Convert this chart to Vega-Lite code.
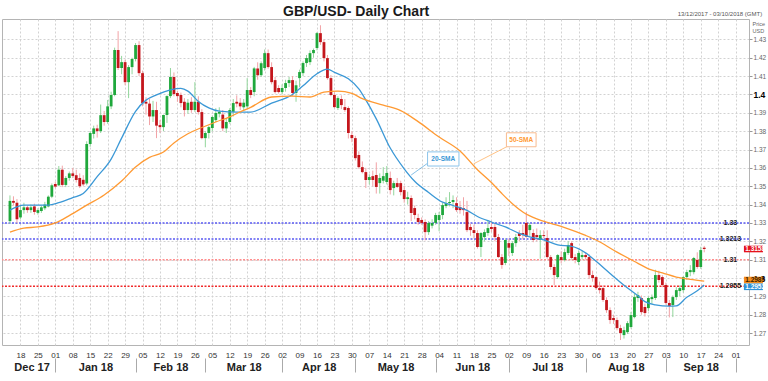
{
"$schema": "https://vega.github.io/schema/vega-lite/v6.json",
"width": 747,
"height": 326,
"autosize": {"type": "none"},
"padding": {"left": 2, "top": 19, "right": 19, "bottom": 36},
"background": "white",
"config": {
  "font": "Liberation Sans",
  "view": {"stroke": "#b4b4b4"},
  "axis": {"labelFont": "Liberation Sans", "titleFont": "Liberation Sans", "labelOverlap": false},
  "text": {"font": "Liberation Sans"}
},
"title": {"text": "GBP/USD- Daily Chart", "anchor": "start", "frame": "group", "dx": 281, "dy": 12, "offset": 4, "fontSize": 14, "fontWeight": "bold", "color": "#1a1a1a", "font": "Liberation Sans"},
"datasets": {
"candles": [
{"i":0,"o":1.3310,"h":1.3450,"l":1.3295,"c":1.3420},
{"i":1,"o":1.3420,"h":1.3445,"l":1.3395,"c":1.3410},
{"i":2,"o":1.3410,"h":1.3430,"l":1.3300,"c":1.3320},
{"i":3,"o":1.3330,"h":1.3395,"l":1.3320,"c":1.3370},
{"i":4,"o":1.3370,"h":1.3410,"l":1.3350,"c":1.3385},
{"i":5,"o":1.3385,"h":1.3395,"l":1.3355,"c":1.3370},
{"i":6,"o":1.3370,"h":1.3400,"l":1.3355,"c":1.3385},
{"i":7,"o":1.3390,"h":1.3405,"l":1.3345,"c":1.3360},
{"i":8,"o":1.3355,"h":1.3380,"l":1.3345,"c":1.3370},
{"i":9,"o":1.3365,"h":1.3395,"l":1.3355,"c":1.3385},
{"i":10,"o":1.3380,"h":1.3415,"l":1.3370,"c":1.3400},
{"i":11,"o":1.3390,"h":1.3450,"l":1.3385,"c":1.3443},
{"i":12,"o":1.3443,"h":1.3515,"l":1.3435,"c":1.3505},
{"i":13,"o":1.3512,"h":1.3525,"l":1.3490,"c":1.3498},
{"i":14,"o":1.3505,"h":1.3610,"l":1.3500,"c":1.3590},
{"i":15,"o":1.3590,"h":1.3612,"l":1.3495,"c":1.3507},
{"i":16,"o":1.3507,"h":1.3555,"l":1.3495,"c":1.3545},
{"i":17,"o":1.3545,"h":1.3580,"l":1.3530,"c":1.3570},
{"i":18,"o":1.3570,"h":1.3600,"l":1.3545,"c":1.3556},
{"i":19,"o":1.3560,"h":1.3590,"l":1.3520,"c":1.3534},
{"i":20,"o":1.3545,"h":1.3570,"l":1.3490,"c":1.3500},
{"i":21,"o":1.3535,"h":1.3560,"l":1.3500,"c":1.3510},
{"i":22,"o":1.3515,"h":1.3745,"l":1.3505,"c":1.3730},
{"i":23,"o":1.3730,"h":1.3800,"l":1.3715,"c":1.3790},
{"i":24,"o":1.3785,"h":1.3830,"l":1.3760,"c":1.3815},
{"i":25,"o":1.3815,"h":1.3835,"l":1.3765,"c":1.3800},
{"i":26,"o":1.3800,"h":1.3945,"l":1.3790,"c":1.3887},
{"i":27,"o":1.3887,"h":1.3910,"l":1.3830,"c":1.3850},
{"i":28,"o":1.3850,"h":1.3970,"l":1.3840,"c":1.3935},
{"i":29,"o":1.3935,"h":1.4015,"l":1.3920,"c":1.3997},
{"i":30,"o":1.3997,"h":1.4255,"l":1.3990,"c":1.4242},
{"i":31,"o":1.4242,"h":1.4345,"l":1.4133,"c":1.4144},
{"i":32,"o":1.4144,"h":1.4210,"l":1.4110,"c":1.4176},
{"i":33,"o":1.4176,"h":1.4190,"l":1.4050,"c":1.4067},
{"i":34,"o":1.4067,"h":1.4160,"l":1.3980,"c":1.4149},
{"i":35,"o":1.4149,"h":1.4200,"l":1.4110,"c":1.4193},
{"i":36,"o":1.4193,"h":1.4280,"l":1.4180,"c":1.4269},
{"i":37,"o":1.4269,"h":1.4290,"l":1.4100,"c":1.4116},
{"i":38,"o":1.4116,"h":1.4130,"l":1.3935,"c":1.3953},
{"i":39,"o":1.3960,"h":1.3985,"l":1.3890,"c":1.3950},
{"i":40,"o":1.3950,"h":1.3975,"l":1.3833,"c":1.3880},
{"i":41,"o":1.3880,"h":1.3965,"l":1.3850,"c":1.3915},
{"i":42,"o":1.3915,"h":1.3960,"l":1.3762,"c":1.3830},
{"i":43,"o":1.3833,"h":1.3860,"l":1.3790,"c":1.3822},
{"i":44,"o":1.3822,"h":1.3890,"l":1.3800,"c":1.3888},
{"i":45,"o":1.3888,"h":1.3995,"l":1.3845,"c":1.3991},
{"i":46,"o":1.3991,"h":1.4144,"l":1.3980,"c":1.4095},
{"i":47,"o":1.4095,"h":1.4120,"l":1.3990,"c":1.4002},
{"i":48,"o":1.4008,"h":1.4020,"l":1.3960,"c":1.3991},
{"i":49,"o":1.3997,"h":1.4010,"l":1.3930,"c":1.3953},
{"i":50,"o":1.3960,"h":1.3980,"l":1.3880,"c":1.3915},
{"i":51,"o":1.3915,"h":1.3975,"l":1.3895,"c":1.3955},
{"i":52,"o":1.3960,"h":1.3985,"l":1.3900,"c":1.3915},
{"i":53,"o":1.3915,"h":1.4067,"l":1.3905,"c":1.3960},
{"i":54,"o":1.3960,"h":1.3990,"l":1.3890,"c":1.3904},
{"i":55,"o":1.3904,"h":1.3920,"l":1.3755,"c":1.3762},
{"i":56,"o":1.3762,"h":1.3800,"l":1.3712,"c":1.3790},
{"i":57,"o":1.3790,"h":1.3830,"l":1.3760,"c":1.3822},
{"i":58,"o":1.3817,"h":1.3885,"l":1.3800,"c":1.3877},
{"i":59,"o":1.3860,"h":1.3925,"l":1.3850,"c":1.3899},
{"i":60,"o":1.3895,"h":1.3930,"l":1.3875,"c":1.3905},
{"i":61,"o":1.3890,"h":1.3915,"l":1.3800,"c":1.3815},
{"i":62,"o":1.3815,"h":1.3870,"l":1.3790,"c":1.3850},
{"i":63,"o":1.3850,"h":1.3925,"l":1.3840,"c":1.3915},
{"i":64,"o":1.3905,"h":1.3975,"l":1.3880,"c":1.3953},
{"i":65,"o":1.3960,"h":1.3995,"l":1.3930,"c":1.3950},
{"i":66,"o":1.3955,"h":1.3980,"l":1.3915,"c":1.3935},
{"i":67,"o":1.3930,"h":1.3975,"l":1.3910,"c":1.3955},
{"i":68,"o":1.3935,"h":1.4089,"l":1.3925,"c":1.4024},
{"i":69,"o":1.4024,"h":1.4040,"l":1.3980,"c":1.3997},
{"i":70,"o":1.4013,"h":1.4150,"l":1.3990,"c":1.4142},
{"i":71,"o":1.4142,"h":1.4175,"l":1.4080,"c":1.4105},
{"i":72,"o":1.4105,"h":1.4180,"l":1.4095,"c":1.4170},
{"i":73,"o":1.4144,"h":1.4245,"l":1.4130,"c":1.4225},
{"i":74,"o":1.4225,"h":1.4245,"l":1.4140,"c":1.4149},
{"i":75,"o":1.4149,"h":1.4175,"l":1.4055,"c":1.4067},
{"i":76,"o":1.4078,"h":1.4095,"l":1.4005,"c":1.4013},
{"i":77,"o":1.4035,"h":1.4050,"l":1.4005,"c":1.4013},
{"i":78,"o":1.4013,"h":1.4055,"l":1.4000,"c":1.4035},
{"i":79,"o":1.4035,"h":1.4080,"l":1.4015,"c":1.4062},
{"i":80,"o":1.4062,"h":1.4095,"l":1.4040,"c":1.4078},
{"i":81,"o":1.4078,"h":1.4100,"l":1.3990,"c":1.4008},
{"i":82,"o":1.4008,"h":1.4075,"l":1.3960,"c":1.4050},
{"i":83,"o":1.4089,"h":1.4135,"l":1.4040,"c":1.4122},
{"i":84,"o":1.4116,"h":1.4180,"l":1.4100,"c":1.4171},
{"i":85,"o":1.4171,"h":1.4215,"l":1.4150,"c":1.4198},
{"i":86,"o":1.4176,"h":1.4240,"l":1.4160,"c":1.4225},
{"i":87,"o":1.4225,"h":1.4250,"l":1.4200,"c":1.4242},
{"i":88,"o":1.4253,"h":1.4340,"l":1.4240,"c":1.4334},
{"i":89,"o":1.4334,"h":1.4377,"l":1.4270,"c":1.4285},
{"i":90,"o":1.4285,"h":1.4300,"l":1.4180,"c":1.4198},
{"i":91,"o":1.4198,"h":1.4215,"l":1.4080,"c":1.4089},
{"i":92,"o":1.4089,"h":1.4105,"l":1.3990,"c":1.3997},
{"i":93,"o":1.3997,"h":1.4010,"l":1.3925,"c":1.3931},
{"i":94,"o":1.3926,"h":1.3990,"l":1.3915,"c":1.3980},
{"i":95,"o":1.3975,"h":1.3995,"l":1.3920,"c":1.3942},
{"i":96,"o":1.3931,"h":1.3975,"l":1.3905,"c":1.3915},
{"i":97,"o":1.3926,"h":1.3935,"l":1.3760,"c":1.3790},
{"i":98,"o":1.3779,"h":1.3800,"l":1.3740,"c":1.3762},
{"i":99,"o":1.3762,"h":1.3775,"l":1.3640,"c":1.3653},
{"i":100,"o":1.3670,"h":1.3690,"l":1.3595,"c":1.3604},
{"i":101,"o":1.3604,"h":1.3635,"l":1.3570,"c":1.3577},
{"i":102,"o":1.3577,"h":1.3600,"l":1.3490,"c":1.3534},
{"i":103,"o":1.3534,"h":1.3565,"l":1.3510,"c":1.3550},
{"i":104,"o":1.3555,"h":1.3585,"l":1.3500,"c":1.3534},
{"i":105,"o":1.3561,"h":1.3630,"l":1.3460,"c":1.3496},
{"i":106,"o":1.3517,"h":1.3570,"l":1.3460,"c":1.3545},
{"i":107,"o":1.3530,"h":1.3604,"l":1.3515,"c":1.3555},
{"i":108,"o":1.3523,"h":1.3610,"l":1.3510,"c":1.3572},
{"i":109,"o":1.3545,"h":1.3580,"l":1.3455,"c":1.3479},
{"i":110,"o":1.3490,"h":1.3530,"l":1.3450,"c":1.3517},
{"i":111,"o":1.3517,"h":1.3545,"l":1.3490,"c":1.3496},
{"i":112,"o":1.3517,"h":1.3530,"l":1.3450,"c":1.3468},
{"i":113,"o":1.3479,"h":1.3500,"l":1.3410,"c":1.3430},
{"i":114,"o":1.3430,"h":1.3470,"l":1.3400,"c":1.3440},
{"i":115,"o":1.3436,"h":1.3450,"l":1.3310,"c":1.3354},
{"i":116,"o":1.3381,"h":1.3395,"l":1.3320,"c":1.3343},
{"i":117,"o":1.3327,"h":1.3350,"l":1.3290,"c":1.3305},
{"i":118,"o":1.3316,"h":1.3330,"l":1.3290,"c":1.3300},
{"i":119,"o":1.3305,"h":1.3320,"l":1.3205,"c":1.3250},
{"i":120,"o":1.3250,"h":1.3310,"l":1.3235,"c":1.3300},
{"i":121,"o":1.3285,"h":1.3320,"l":1.3270,"c":1.3300},
{"i":122,"o":1.3300,"h":1.3355,"l":1.3290,"c":1.3343},
{"i":123,"o":1.3316,"h":1.3360,"l":1.3255,"c":1.3343},
{"i":124,"o":1.3343,"h":1.3410,"l":1.3320,"c":1.3397},
{"i":125,"o":1.3392,"h":1.3440,"l":1.3380,"c":1.3408},
{"i":126,"o":1.3408,"h":1.3468,"l":1.3390,"c":1.3414},
{"i":127,"o":1.3414,"h":1.3450,"l":1.3380,"c":1.3425},
{"i":128,"o":1.3408,"h":1.3440,"l":1.3360,"c":1.3370},
{"i":129,"o":1.3387,"h":1.3420,"l":1.3350,"c":1.3370},
{"i":130,"o":1.3381,"h":1.3440,"l":1.3340,"c":1.3370},
{"i":131,"o":1.3359,"h":1.3420,"l":1.3250,"c":1.3261},
{"i":132,"o":1.3278,"h":1.3295,"l":1.3230,"c":1.3261},
{"i":133,"o":1.3261,"h":1.3290,"l":1.3215,"c":1.3245},
{"i":134,"o":1.3245,"h":1.3260,"l":1.3160,"c":1.3169},
{"i":135,"o":1.3169,"h":1.3250,"l":1.3114,"c":1.3245},
{"i":136,"o":1.3223,"h":1.3265,"l":1.3200,"c":1.3250},
{"i":137,"o":1.3245,"h":1.3316,"l":1.3230,"c":1.3272},
{"i":138,"o":1.3278,"h":1.3310,"l":1.3250,"c":1.3267},
{"i":139,"o":1.3278,"h":1.3300,"l":1.3200,"c":1.3223},
{"i":140,"o":1.3223,"h":1.3240,"l":1.3110,"c":1.3114},
{"i":141,"o":1.3114,"h":1.3130,"l":1.3050,"c":1.3071},
{"i":142,"o":1.3082,"h":1.3215,"l":1.3070,"c":1.3207},
{"i":143,"o":1.3190,"h":1.3215,"l":1.3120,"c":1.3165},
{"i":144,"o":1.3136,"h":1.3200,"l":1.3120,"c":1.3190},
{"i":145,"o":1.3190,"h":1.3240,"l":1.3170,"c":1.3223},
{"i":146,"o":1.3245,"h":1.3260,"l":1.3200,"c":1.3229},
{"i":147,"o":1.3245,"h":1.3290,"l":1.3210,"c":1.3234},
{"i":148,"o":1.3300,"h":1.3360,"l":1.3220,"c":1.3225},
{"i":149,"o":1.3261,"h":1.3300,"l":1.3230,"c":1.3289},
{"i":150,"o":1.3245,"h":1.3265,"l":1.3195,"c":1.3207},
{"i":151,"o":1.3234,"h":1.3270,"l":1.3200,"c":1.3223},
{"i":152,"o":1.3207,"h":1.3260,"l":1.3105,"c":1.3234},
{"i":153,"o":1.3234,"h":1.3260,"l":1.3215,"c":1.3229},
{"i":154,"o":1.3218,"h":1.3260,"l":1.3105,"c":1.3114},
{"i":155,"o":1.3114,"h":1.3125,"l":1.3045,"c":1.3060},
{"i":156,"o":1.3060,"h":1.3075,"l":1.2962,"c":1.3016},
{"i":157,"o":1.3005,"h":1.3130,"l":1.2995,"c":1.3125},
{"i":158,"o":1.3114,"h":1.3145,"l":1.3080,"c":1.3098},
{"i":159,"o":1.3098,"h":1.3160,"l":1.3090,"c":1.3141},
{"i":160,"o":1.3136,"h":1.3200,"l":1.3125,"c":1.3180},
{"i":161,"o":1.3190,"h":1.3200,"l":1.3100,"c":1.3109},
{"i":162,"o":1.3114,"h":1.3130,"l":1.3080,"c":1.3098},
{"i":163,"o":1.3087,"h":1.3150,"l":1.3070,"c":1.3136},
{"i":164,"o":1.3114,"h":1.3150,"l":1.3100,"c":1.3125},
{"i":165,"o":1.3125,"h":1.3140,"l":1.3100,"c":1.3114},
{"i":166,"o":1.3114,"h":1.3130,"l":1.2995,"c":1.3016},
{"i":167,"o":1.3016,"h":1.3040,"l":1.2980,"c":1.3000},
{"i":168,"o":1.3005,"h":1.3010,"l":1.2935,"c":1.2945},
{"i":169,"o":1.2945,"h":1.2980,"l":1.2915,"c":1.2934},
{"i":170,"o":1.2945,"h":1.2960,"l":1.2870,"c":1.2880},
{"i":171,"o":1.2880,"h":1.2895,"l":1.2810,"c":1.2825},
{"i":172,"o":1.2825,"h":1.2840,"l":1.2750,"c":1.2771},
{"i":173,"o":1.2782,"h":1.2800,"l":1.2750,"c":1.2771},
{"i":174,"o":1.2771,"h":1.2785,"l":1.2715,"c":1.2727},
{"i":175,"o":1.2727,"h":1.2745,"l":1.2662,"c":1.2700},
{"i":176,"o":1.2689,"h":1.2735,"l":1.2670,"c":1.2716},
{"i":177,"o":1.2705,"h":1.2765,"l":1.2695,"c":1.2754},
{"i":178,"o":1.2733,"h":1.2815,"l":1.2725,"c":1.2798},
{"i":179,"o":1.2787,"h":1.2915,"l":1.2780,"c":1.2896},
{"i":180,"o":1.2891,"h":1.2925,"l":1.2870,"c":1.2907},
{"i":181,"o":1.2891,"h":1.2905,"l":1.2800,"c":1.2814},
{"i":182,"o":1.2842,"h":1.2860,"l":1.2790,"c":1.2809},
{"i":183,"o":1.2836,"h":1.2900,"l":1.2820,"c":1.2891},
{"i":184,"o":1.2885,"h":1.2910,"l":1.2860,"c":1.2896},
{"i":185,"o":1.2891,"h":1.3045,"l":1.2880,"c":1.3016},
{"i":186,"o":1.3016,"h":1.3040,"l":1.2975,"c":1.2989},
{"i":187,"o":1.3005,"h":1.3015,"l":1.2950,"c":1.2962},
{"i":188,"o":1.2962,"h":1.2975,"l":1.2855,"c":1.2864},
{"i":189,"o":1.2864,"h":1.2880,"l":1.2785,"c":1.2847},
{"i":190,"o":1.2853,"h":1.2905,"l":1.2787,"c":1.2896},
{"i":191,"o":1.2896,"h":1.2950,"l":1.2880,"c":1.2934},
{"i":192,"o":1.2929,"h":1.2960,"l":1.2900,"c":1.2945},
{"i":193,"o":1.2934,"h":1.3010,"l":1.2920,"c":1.3005},
{"i":194,"o":1.3005,"h":1.3045,"l":1.2990,"c":1.3032},
{"i":195,"o":1.3032,"h":1.3070,"l":1.3010,"c":1.3043},
{"i":196,"o":1.3032,"h":1.3115,"l":1.3020,"c":1.3109},
{"i":197,"o":1.3098,"h":1.3140,"l":1.3050,"c":1.3060},
{"i":198,"o":1.3060,"h":1.3170,"l":1.3050,"c":1.3152},
{"i":199,"o":1.3165,"h":1.3175,"l":1.3140,"c":1.3158}
],
"sma": [
{"s":"20","i":0,"v":1.3370},{"s":"20","i":4,"v":1.3397},{"s":"20","i":11,"v":1.3397},{"s":"20","i":14,"v":1.3410},{"s":"20","i":18,"v":1.3438},{"s":"20","i":21,"v":1.3460},{"s":"20","i":25,"v":1.3552},{"s":"20","i":29,"v":1.3648},{"s":"20","i":32,"v":1.3762},{"s":"20","i":36,"v":1.3908},{"s":"20","i":39,"v":1.3969},{"s":"20","i":42,"v":1.3998},{"s":"20","i":46,"v":1.4025},{"s":"20","i":49,"v":1.4033},{"s":"20","i":51,"v":1.4018},{"s":"20","i":54,"v":1.3962},{"s":"20","i":57,"v":1.3927},{"s":"20","i":60,"v":1.3909},{"s":"20","i":65,"v":1.3904},{"s":"20","i":69,"v":1.3904},{"s":"20","i":75,"v":1.3953},{"s":"20","i":81,"v":1.4000},{"s":"20","i":84,"v":1.4047},{"s":"20","i":88,"v":1.4113},{"s":"20","i":91,"v":1.4138},{"s":"20","i":93,"v":1.4120},{"s":"20","i":97,"v":1.4085},{"s":"20","i":100,"v":1.4030},{"s":"20","i":102,"v":1.3970},{"s":"20","i":105,"v":1.3867},{"s":"20","i":109,"v":1.3708},{"s":"20","i":113,"v":1.3595},{"s":"20","i":116,"v":1.3527},{"s":"20","i":120,"v":1.3466},{"s":"20","i":124,"v":1.3413},{"s":"20","i":127,"v":1.3395},{"s":"20","i":131,"v":1.3368},{"s":"20","i":134,"v":1.3335},{"s":"20","i":138,"v":1.3305},{"s":"20","i":142,"v":1.3278},{"s":"20","i":146,"v":1.3243},{"s":"20","i":149,"v":1.3224},{"s":"20","i":153,"v":1.3208},{"s":"20","i":157,"v":1.3180},{"s":"20","i":161,"v":1.3172},{"s":"20","i":165,"v":1.3137},{"s":"20","i":168,"v":1.3091},{"s":"20","i":172,"v":1.3025},{"s":"20","i":176,"v":1.2961},{"s":"20","i":180,"v":1.2903},{"s":"20","i":182,"v":1.2871},{"s":"20","i":185,"v":1.2854},{"s":"20","i":189,"v":1.2847},{"s":"20","i":191,"v":1.2848},{"s":"20","i":194,"v":1.2895},{"s":"20","i":197,"v":1.2930},{"s":"20","i":199,"v":1.2962},
{"s":"50","i":0,"v":1.3250},{"s":"50","i":4,"v":1.3272},{"s":"50","i":8,"v":1.3278},{"s":"50","i":13,"v":1.3300},{"s":"50","i":17,"v":1.3340},{"s":"50","i":22,"v":1.3397},{"s":"50","i":27,"v":1.3452},{"s":"50","i":32,"v":1.3528},{"s":"50","i":36,"v":1.3605},{"s":"50","i":40,"v":1.3657},{"s":"50","i":44,"v":1.3686},{"s":"50","i":47,"v":1.3736},{"s":"50","i":51,"v":1.3786},{"s":"50","i":55,"v":1.3820},{"s":"50","i":59,"v":1.3850},{"s":"50","i":63,"v":1.3878},{"s":"50","i":66,"v":1.3905},{"s":"50","i":69,"v":1.3930},{"s":"50","i":75,"v":1.3986},{"s":"50","i":81,"v":1.3991},{"s":"50","i":86,"v":1.3986},{"s":"50","i":90,"v":1.4013},{"s":"50","i":94,"v":1.4018},{"s":"50","i":98,"v":1.4006},{"s":"50","i":101,"v":1.3977},{"s":"50","i":107,"v":1.3942},{"s":"50","i":112,"v":1.3912},{"s":"50","i":117,"v":1.3852},{"s":"50","i":123,"v":1.3768},{"s":"50","i":129,"v":1.3692},{"s":"50","i":134,"v":1.3590},{"s":"50","i":138,"v":1.3520},{"s":"50","i":141,"v":1.3460},{"s":"50","i":144,"v":1.3405},{"s":"50","i":147,"v":1.3360},{"s":"50","i":151,"v":1.3322},{"s":"50","i":155,"v":1.3298},{"s":"50","i":159,"v":1.3275},{"s":"50","i":165,"v":1.3232},{"s":"50","i":168,"v":1.3207},{"s":"50","i":174,"v":1.3141},{"s":"50","i":180,"v":1.3080},{"s":"50","i":183,"v":1.3050},{"s":"50","i":187,"v":1.3028},{"s":"50","i":191,"v":1.3005},{"s":"50","i":195,"v":1.2993},{"s":"50","i":199,"v":1.2983}
],
"levels": [{"lv":"1.33","v":1.33},{"lv":"1.3213","v":1.3213},{"lv":"1.31","v":1.31},{"lv":"1.2955","v":1.2955}],
"notes": [
{"s":"20","t":"20-SMA","x1":119.7,"x2":128.7,"y1":1.3687,"y2":1.3610,"xm":124.2,"ym":1.3648,"lx1":115.0,"ly1":1.3561,"lx2":119.7,"ly2":1.3625},
{"s":"50","t":"50-SMA","x1":142.3,"x2":150.8,"y1":1.3791,"y2":1.3715,"xm":146.55,"ym":1.3753,"lx1":132.9,"ly1":1.3622,"lx2":142.9,"ly2":1.3720}
],
"tags": [{"k":"close","v":1.3158},{"k":"sma50","v":1.2989},{"k":"sma20","v":1.2952}],
"meta": [{"range":"13/12/2017 - 03/10/2018 (GMT)"}]
},
"resolve": {"axis": {"x": "independent", "y": "independent"}},
"layer": [
{
 "data": {"name": "levels"},
 "mark": {"type": "rule", "strokeWidth": 1.5, "strokeDash": [2, 1.5]},
 "encoding": {
  "y": {"field": "v", "type": "quantitative",
   "scale": {"domain": [1.2635, 1.4411], "nice": false, "zero": false},
   "axis": {"orient": "right", "values": [1.27,1.28,1.29,1.31,1.32,1.33,1.34,1.35,1.36,1.37,1.38,1.39,1.41,1.42,1.43],
    "grid": true, "gridDash": [2,2], "gridColor": "#d2d2d2", "domain": false,
    "tickSize": 3, "tickColor": "#999", "labelPadding": 1, "labelOverlap": false, "labelFlush": false, "labelBound": false,
    "format": ".2f", "labelFontSize": 6.5, "labelColor": "#666",
    "title": ["Price", "USD"], "titleAngle": 0, "titleX": 3, "titleY": 2, "titleAlign": "left", "titleBaseline": "top",
    "titleFontSize": 5.5, "titleFontWeight": "normal", "titleColor": "#666", "titleLineHeight": 7}},
  "color": {"field": "lv", "type": "nominal", "legend": null,
   "scale": {"domain": ["20","50","close","sma50","sma20","1.33","1.3213","1.31","1.2955"], "range": ["#3b98d6","#ff9a33","#e5121b","#f58d1e","#2e92d8","#5a5af2","#5a5af2","#ff8f8f","#f02a2a"]}}
 }
},
{
 "data": {"name": "candles"},
 "mark": {"type": "rule", "strokeWidth": 1},
 "encoding": {
  "x": {"field": "i", "type": "quantitative",
   "scale": {"domain": [-0.85, 210.4], "nice": false, "zero": false},
   "axis": {"orient": "bottom", "values": [3,8,13,18,23,28,33,38,43,48,53,58,63,68,73,78,83,88,93,98,103,108,113,118,123,128,133,138,143,148,153,158,163,168,173,178,183,188,193,198,203,208],
    "labelExpr": "['18','25','01','08','15','22','29','05','12','19','26','05','12','19','26','02','09','16','23','30','07','14','21','28','04','11','18','25','02','09','16','23','30','06','13','20','27','03','10','17','24','01'][round((datum.value-3)/5)]",
    "grid": true, "gridDash": [2,2], "gridColor": "#d2d2d2", "domain": false, "ticks": false,
    "labelPadding": 6, "labelFontSize": 8, "labelColor": "#333", "labelOverlap": false, "labelFlush": false, "title": null}},
  "y": {"field": "l", "type": "quantitative", "scale": {"domain": [1.2635, 1.4411], "nice": false, "zero": false},
   "axis": {"orient": "right", "values": [1.3, 1.4], "grid": true, "gridDash": [2,2], "gridColor": "#d2d2d2", "domain": false,
    "tickSize": 3, "tickColor": "#999", "labelPadding": 1, "labelOverlap": false, "labelFlush": false, "labelBound": false,
    "format": ".1f", "labelFontSize": 8.5, "labelFontWeight": "bold", "labelColor": "#000", "title": null}},
  "y2": {"field": "h"},
  "color": {"condition": {"test": "datum.c >= datum.o", "value": "#92d69c"}, "value": "#f2a2a6"}
 }
},
{
 "data": {"name": "candles"},
 "mark": {"type": "bar", "size": 2.8, "orient": "vertical"},
 "encoding": {
  "x": {"field": "i", "type": "quantitative",
   "axis": {"orient": "bottom", "values": [6.2,24.5,46,67,88.5,110.5,132.5,154,176.5,198],
    "labelExpr": "datum.value < 10 ? 'Dec 17' : datum.value < 30 ? 'Jan 18' : datum.value < 50 ? 'Feb 18' : datum.value < 70 ? 'Mar 18' : datum.value < 100 ? 'Apr 18' : datum.value < 120 ? 'May 18' : datum.value < 140 ? 'Jun 18' : datum.value < 160 ? 'Jul 18' : datum.value < 180 ? 'Aug 18' : 'Sep 18'",
    "grid": false, "domain": false, "ticks": false, "labelPadding": 16, "labelFontSize": 11, "labelFontWeight": "bold", "labelColor": "#222", "labelOverlap": false, "labelFlush": false, "title": null}},
  "y": {"field": "o", "type": "quantitative", "axis": null},
  "y2": {"field": "c"},
  "color": {"condition": {"test": "datum.c >= datum.o", "value": "#1fa83c"}, "value": "#c4161c"}
 }
},
{
 "data": {"name": "sma"},
 "mark": {"type": "line", "strokeWidth": 1.3, "interpolate": "monotone"},
 "encoding": {
  "x": {"field": "i", "type": "quantitative",
   "axis": {"orient": "bottom", "values": [13,36,56,78,99,122,143,165,188,208], "labels": false, "ticks": true, "tickSize": 14, "tickColor": "#aaa", "offset": 13, "domain": false, "grid": false, "title": null}},
  "y": {"field": "v", "type": "quantitative", "axis": null},
  "color": {"field": "s", "type": "nominal", "legend": null,
   "scale": {"domain": ["20","50","close","sma50","sma20","1.33","1.3213","1.31","1.2955"], "range": ["#3b98d6","#ff9a33","#e5121b","#f58d1e","#2e92d8","#5a5af2","#5a5af2","#ff8f8f","#f02a2a"]}}
 }
},
{
 "data": {"name": "notes"},
 "mark": {"type": "rule", "strokeWidth": 1, "opacity": 0.6},
 "encoding": {
  "x": {"field": "lx1", "type": "quantitative", "axis": null},
  "x2": {"field": "lx2"},
  "y": {"field": "ly1", "type": "quantitative", "axis": null},
  "y2": {"field": "ly2"},
  "color": {"field": "s", "type": "nominal", "legend": null,
   "scale": {"domain": ["20","50","close","sma50","sma20","1.33","1.3213","1.31","1.2955"], "range": ["#3b98d6","#ff9a33","#e5121b","#f58d1e","#2e92d8","#5a5af2","#5a5af2","#ff8f8f","#f02a2a"]}}
 }
},
{
 "data": {"name": "notes"},
 "mark": {"type": "rect", "fill": "white", "strokeWidth": 1},
 "encoding": {
  "x": {"field": "x1", "type": "quantitative", "axis": null},
  "x2": {"field": "x2"},
  "y": {"field": "y1", "type": "quantitative", "axis": null},
  "y2": {"field": "y2"},
  "stroke": {"field": "s", "type": "nominal", "legend": null, "scale": {"domain": ["20","50"], "range": ["#8cc4ea","#f8bb8f"]}}
 }
},
{
 "data": {"name": "notes"},
 "mark": {"type": "text", "fontSize": 6.5, "fontWeight": "bold", "align": "center", "baseline": "middle"},
 "encoding": {
  "x": {"field": "xm", "type": "quantitative", "axis": null},
  "y": {"field": "ym", "type": "quantitative", "axis": null},
  "text": {"field": "t"},
  "color": {"field": "s", "type": "nominal", "legend": null,
   "scale": {"domain": ["20","50","close","sma50","sma20","1.33","1.3213","1.31","1.2955"], "range": ["#3b98d6","#ff9a33","#e5121b","#f58d1e","#2e92d8","#5a5af2","#5a5af2","#ff8f8f","#f02a2a"]}}
 }
},
{
 "data": {"name": "levels"},
 "mark": {"type": "text", "fontSize": 7, "fontWeight": "bold", "align": "center", "baseline": "middle", "color": "#1a1a1a"},
 "encoding": {
  "x": {"datum": 206.5, "type": "quantitative", "axis": null},
  "y": {"field": "v", "type": "quantitative", "axis": null},
  "text": {"field": "lv"}
 }
},
{
 "data": {"name": "tags"},
 "mark": {"type": "tick", "orient": "horizontal", "size": 19, "thickness": 6.6, "opacity": 1},
 "encoding": {
  "x": {"datum": 213.1, "type": "quantitative", "axis": null},
  "y": {"field": "v", "type": "quantitative", "axis": null},
  "color": {"field": "k", "type": "nominal", "legend": null,
   "scale": {"domain": ["20","50","close","sma50","sma20","1.33","1.3213","1.31","1.2955"], "range": ["#3b98d6","#ff9a33","#e5121b","#f58d1e","#2e92d8","#5a5af2","#5a5af2","#ff8f8f","#f02a2a"]}}
 }
},
{
 "data": {"name": "tags"},
 "mark": {"type": "text", "fontSize": 6.5, "fontWeight": "bold", "align": "left", "baseline": "middle"},
 "encoding": {
  "x": {"datum": 210.75, "type": "quantitative", "axis": null},
  "y": {"field": "v", "type": "quantitative", "axis": null},
  "text": {"field": "v", "type": "quantitative", "format": ".4f"},
  "color": {"condition": {"test": "datum.k == 'sma50'", "value": "#3a2200"}, "value": "#ffffff"}
 }
},
{
 "data": {"name": "meta"},
 "mark": {"type": "text", "fontSize": 6, "align": "right", "baseline": "alphabetic", "color": "#555"},
 "encoding": {
  "x": {"datum": 215.6, "type": "quantitative", "axis": null},
  "y": {"datum": 1.4430, "type": "quantitative", "axis": null},
  "text": {"field": "range"}
 }
}
]
}
